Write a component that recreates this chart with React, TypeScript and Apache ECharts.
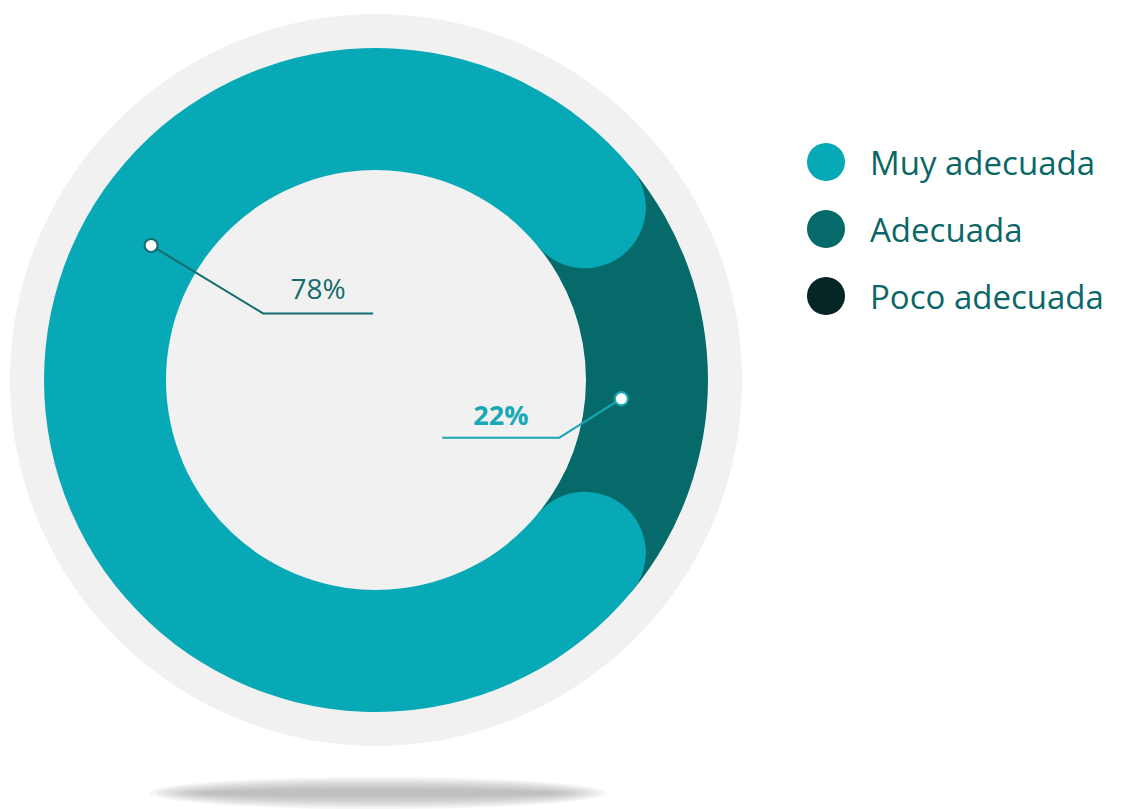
import React, { useEffect, useRef } from 'react';
import * as echarts from 'echarts';

const categories = ['Muy adecuada', 'Adecuada', 'Poco adecuada'];
const values = [78, 22, 0];
const colors = ['#08a9b7', '#066a6a', '#062626'];
const labelColors = ['#116c6e', '#19a9b5'];

export default function App() {
  const ref = useRef<HTMLDivElement>(null);
  useEffect(() => {
    const chart = echarts.init(ref.current!, null, { renderer: 'svg' });
    const center = [376, 380];
    const total = values.reduce((a, b) => a + b, 0);
    const startAngle = 180 - (360 * values[0]) / total / 2;
    chart.setOption({
      animation: false,
      backgroundColor: '#ffffff',
      polar: { center, radius: [210, 332] },
      angleAxis: { type: 'value', min: 0, max: total, startAngle, clockwise: false, show: false },
      radiusAxis: { type: 'category', data: ['r'], show: false },
      legend: {
        orient: 'vertical',
        left: 802,
        top: 138,
        itemWidth: 38,
        itemHeight: 38,
        itemGap: 29,
        icon: 'circle',
        selectedMode: false,
        data: categories,
        textStyle: { fontSize: 33, color: '#0b6767', fontFamily: 'Open Sans', fontWeight: 500, padding: [0, 0, 0, 20] },
      },
      series: categories.map((name, i) => ({
        type: 'bar',
        coordinateSystem: 'polar',
        name,
        data: [values[i]],
        stack: 'total',
        roundCap: i === 0,
        z: i === 0 ? 3 : 2,
        barCategoryGap: '0%',
        silent: true,
        itemStyle: { color: colors[i] },
      })),
    });

    // annotation anchors: fraction along each slice, and radial pull toward centre
    const anchorFrac = [0.39, 0.445];
    const radialPull = [0.967, 0.908];
    const cum = [0, values[0]];
    const dots = [0, 1].map((i) => {
      const p = chart.convertToPixel({ polarIndex: 0 } as any, [0, cum[i] + values[i] * anchorFrac[i]]) as number[];
      return [center[0] + (p[0] - center[0]) * radialPull[i], center[1] + (p[1] - center[1]) * radialPull[i]];
    });
    const d1 = dots[0];
    const d2 = dots[1];
    const e1 = [d1[0] + 112, d1[1] + 68];
    const f1 = [e1[0] + 110, e1[1]];
    const e2 = [d2[0] - 62, d2[1] + 39];
    const f2 = [e2[0] - 117, e2[1]];

    const shadowLayers = [0, 1, 2, 3, 4, 5, 6, 7].map((k) => ({
      type: 'ellipse',
      shape: { cx: 378, cy: 793, rx: 228 - k * 7, ry: 16 - k * 1.7 },
      style: { fill: 'rgba(140,140,140,0.085)' },
      z: 0,
      silent: true,
    }));

    chart.setOption({
      graphic: [
        {
          type: 'circle',
          shape: { cx: center[0], cy: center[1], r: 366 },
          style: { fill: '#f1f1f1' },
          z: 0,
          silent: true,
        },
        ...shadowLayers,
        {
          type: 'polyline',
          shape: { points: [d1, e1, f1] },
          style: { stroke: labelColors[0], lineWidth: 2, fill: null },
          z: 100,
        },
        {
          type: 'circle',
          shape: { cx: d1[0], cy: d1[1], r: 6.5 },
          style: { fill: '#ffffff', stroke: labelColors[0], lineWidth: 2 },
          z: 101,
        },
        {
          type: 'text',
          x: (e1[0] + f1[0]) / 2,
          y: e1[1] - 11,
          style: {
            text: `${values[0]}%`,
            fill: labelColors[0],
            fontSize: 28,
            fontFamily: 'Open Sans',
            fontWeight: 500,
            align: 'center',
            verticalAlign: 'bottom',
          },
          z: 100,
        },
        {
          type: 'polyline',
          shape: { points: [d2, e2, f2] },
          style: { stroke: labelColors[1], lineWidth: 2, fill: null },
          z: 100,
        },
        {
          type: 'circle',
          shape: { cx: d2[0], cy: d2[1], r: 6.5 },
          style: { fill: '#ffffff', stroke: labelColors[1], lineWidth: 2 },
          z: 101,
        },
        {
          type: 'text',
          x: (e2[0] + f2[0]) / 2,
          y: e2[1] - 10,
          style: {
            text: `${values[1]}%`,
            fill: labelColors[1],
            fontSize: 27,
            fontFamily: 'Open Sans',
            fontWeight: 700,
            align: 'center',
            verticalAlign: 'bottom',
          },
          z: 100,
        },
      ],
    });
    return () => chart.dispose();
  }, []);
  return <div ref={ref} style={{ position: 'absolute', left: 0, top: 0, width: 1136, height: 809 }} />;
}
